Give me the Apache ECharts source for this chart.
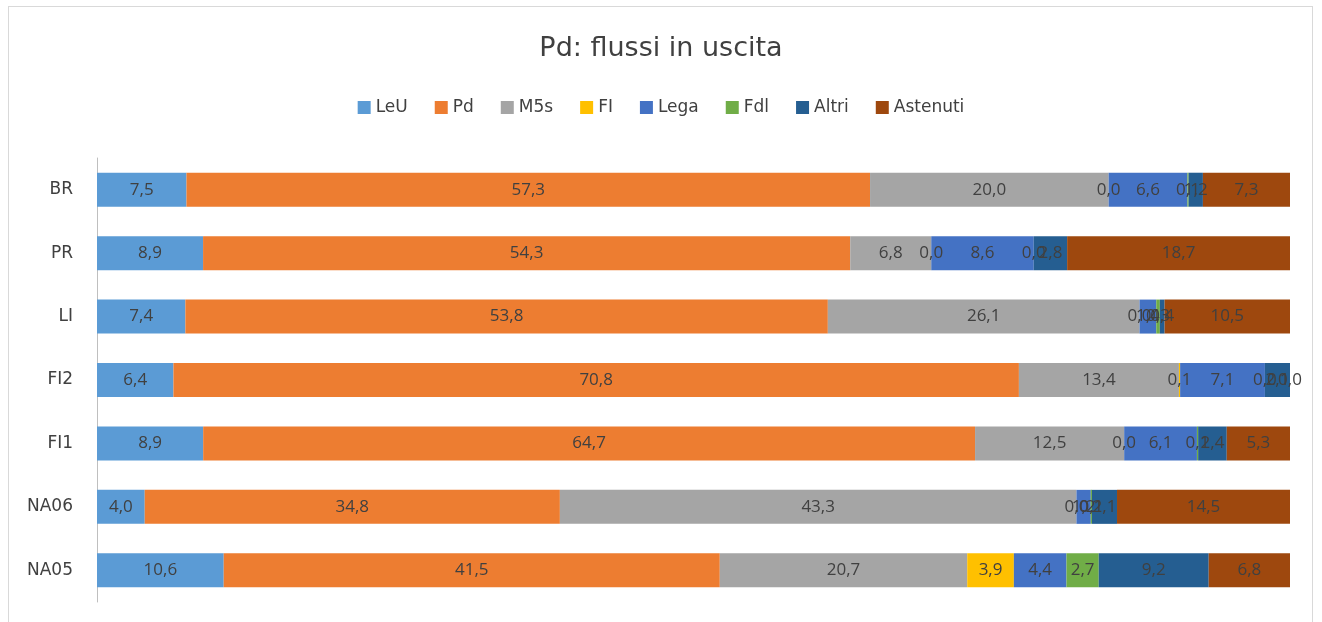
<!DOCTYPE html>
<html><head><meta charset="utf-8">
<script src="https://cdn.jsdelivr.net/npm/echarts@6/dist/echarts.min.js"></script>
<style>
html,body{margin:0;padding:0;background:#fff;}
#frame{position:absolute;left:8px;top:6px;width:1305px;height:640px;border:1px solid #d9d9d9;box-sizing:border-box;}
#chart{position:absolute;left:0;top:0;width:1322px;height:622px;}
</style>
</head><body>
<div id="frame"></div>
<div id="chart"></div>
<script>
const categories = ['NA05','NA06','FI1','FI2','LI','PR','BR'];
const seriesNames = ['LeU','Pd','M5s','FI','Lega','Fdl','Altri','Astenuti'];
const LeU      = [10.6, 4.0, 8.9, 6.4, 7.4, 8.9, 7.5];
const Pd       = [41.5, 34.8, 64.7, 70.8, 53.8, 54.3, 57.3];
const M5s      = [20.7, 43.3, 12.5, 13.4, 26.1, 6.8, 20.0];
const FI       = [3.9, 0.0, 0.0, 0.1, 0.0, 0.0, 0.0];
const Lega     = [4.4, 1.2, 6.1, 7.1, 1.4, 8.6, 6.6];
const Fdl      = [2.7, 0.1, 0.1, 0.0, 0.3, 0.0, 0.1];
const Altri    = [9.2, 2.1, 2.4, 2.1, 0.4, 2.8, 1.2];
const Astenuti = [6.8, 14.5, 5.3, 0.0, 10.5, 18.7, 7.3];
const values = [LeU, Pd, M5s, FI, Lega, Fdl, Altri, Astenuti];
const colors = ['#5B9BD5','#ED7D31','#A5A5A5','#FFC000','#4472C4','#70AD47','#255E91','#9E480E'];

// 100% stacked: each bar is scaled to its own total
const totals = categories.map((c, j) => values.reduce((s, arr) => s + arr[j], 0));

const chart = echarts.init(document.getElementById('chart'));
chart.setOption({
  animation: false,
  title: {
    text: 'Pd: flussi in uscita',
    left: 'center', top: 30,
    textStyle: {fontFamily: 'DejaVu Sans', fontSize: 27, fontWeight: 'normal', color: '#404040'}
  },
  legend: {
    data: seriesNames,
    top: 94, left: 'center',
    itemWidth: 13, itemHeight: 13, itemGap: 27,
    icon: 'rect',
    textStyle: {fontFamily: 'DejaVu Sans', fontSize: 17, color: '#404040'}
  },
  grid: {left: 97, right: 32, top: 158, bottom: 20, containLabel: false},
  xAxis: {type: 'value', min: 0, max: 100, show: false},
  yAxis: {
    type: 'category', data: categories,
    axisLine: {show: true, lineStyle: {color: '#bfbfbf', width: 1}},
    axisTick: {show: false},
    axisLabel: {fontFamily: 'DejaVu Sans', fontSize: 17, color: '#404040', margin: 24}
  },
  series: seriesNames.map((n, i) => ({
    name: n, type: 'bar', stack: 'tot', clip: false,
    data: values[i].map((v, j) => ({value: v / totals[j] * 100, raw: v})),
    barWidth: 34,
    itemStyle: {color: colors[i]},
    label: {
      show: true, position: 'inside',
      fontFamily: 'Open Sans', fontSize: 17, color: '#404040',
      formatter: p => p.data.raw.toFixed(1).replace('.', ',')
    }
  }))
});
</script>
</body></html>
